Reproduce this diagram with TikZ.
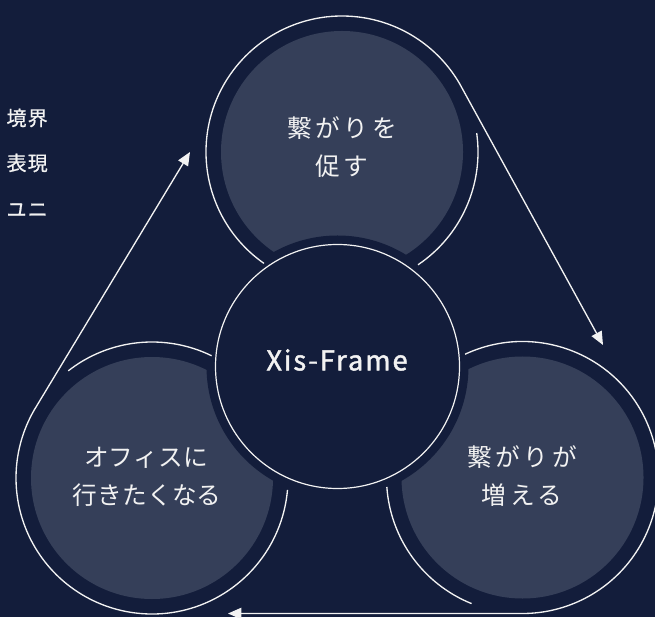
\documentclass[tikz,border=0pt]{standalone}
\usepackage{fontspec}
\setmainfont{Noto Sans CJK JP}
\usetikzlibrary{arrows.meta,calc}
\definecolor{bg}{HTML}{131D3B}
\definecolor{disk}{HTML}{353F59}
\definecolor{fg}{HTML}{F2F2F2}
\begin{document}
\begin{tikzpicture}[x=0.75pt,y=0.75pt,
  ring/.style={draw=fg,line width=1pt},
  arr/.style={ring,-{Triangle[length=10pt,width=8.5pt]}},
  lbl/.style={text=fg,font=\fontsize{18.5pt}{28pt}\selectfont\addfontfeature{LetterSpace=15},align=center,inner sep=0pt},
  lbll/.style={text=fg,font=\fontsize{18.5pt}{28pt}\selectfont\addfontfeature{LetterSpace=1},align=center,inner sep=0pt},
  side/.style={text=fg,font=\fontsize{15pt}{16pt}\selectfont\addfontfeature{LetterSpace=6,FakeBold=0.8},anchor=east,inner sep=0pt},
  title/.style={text=fg,font=\fontsize{20.5pt}{24pt}\selectfont\addfontfeature{LetterSpace=7,FakeBold=1.6},inner sep=0pt}]
\useasboundingbox (0,0) rectangle (655,617);
\fill[bg] (0,0) rectangle (655,617);
\clip (0,0) rectangle (655,617);
\coordinate (T) at (342,465);
\coordinate (L) at (152,139);
\coordinate (R) at (522.5,139.5);
\coordinate (C) at (337.5,250.5);
% filled disks
\fill[disk] (T) circle[radius=121];
\fill[disk] (L) circle[radius=121];
\fill[disk] (R) circle[radius=121];
\fill[bg] (C) circle[radius=131];
\draw[fg,line width=0.9pt] (C) circle[radius=122];
% arrow tips
\coordinate (tipR) at (603,272);
\coordinate (tipL) at (228,3.5);
\coordinate (tipT) at (190,465);
% rings with arrows
\draw[arr] ($(T)+(235:136)$) arc[start angle=235,end angle=30,radius=136] -- (tipR);
\draw[arr] ($(R)+(115:136)$) arc[start angle=115,end angle=-90,radius=136] -- (tipL);
\draw[arr] ($(L)+(355:136)$) arc[start angle=355,end angle=150,radius=136] -- (tipT);
% short ring arcs
\draw[ring] ($(T)+(8:136)$) arc[start angle=8,end angle=-56,radius=136];
\draw[ring] ($(L)+(128:136)$) arc[start angle=128,end angle=64,radius=136];
\draw[ring] ($(R)+(248:136)$) arc[start angle=248,end angle=184,radius=136];
% texts
\node[title] (xf) at (337,257) {Xis-Frame};
\node[lbl] (t1) at (342,489) {繋がりを};
\node[lbl] (t2) at (342,451) {促す};
\node[lbl] (r1) at (522,160) {繋がりが};
\node[lbl] (r2) at (522,122) {増える};
\node[lbll] (l1) at (146,159) {オフィスに};
\node[lbll] (l2) at (147,122) {行きたくなる};
\node[side] (s1) at (48,499) {境界};
\node[side] (s2) at (48,454) {表現};
\node[side] (s3) at (48,407) {ユニ};
\end{tikzpicture}
\end{document}
